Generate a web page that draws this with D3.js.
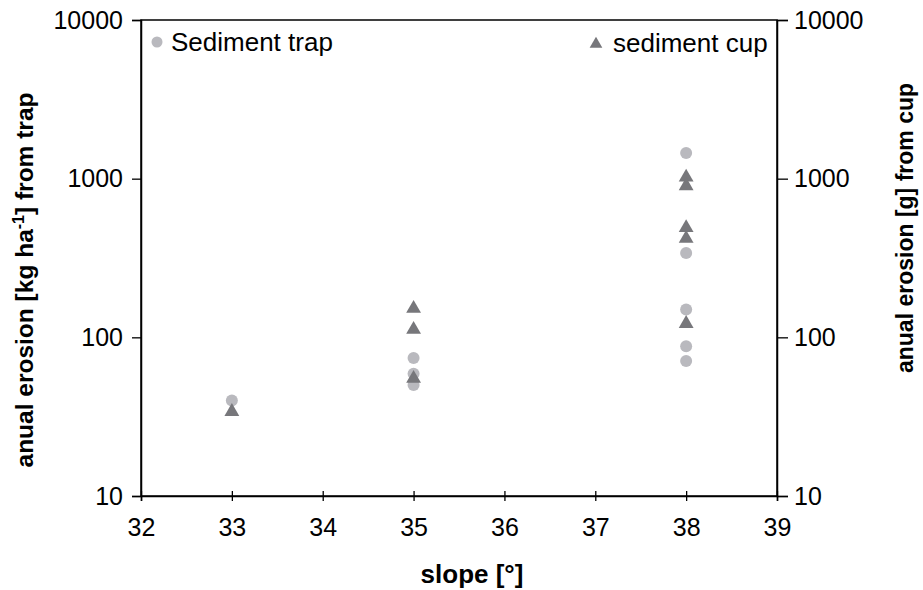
<!DOCTYPE html>
<html>
<head>
<meta charset="utf-8">
<script src="https://cdn.jsdelivr.net/npm/d3@7"></script>
<style>
  html, body { margin: 0; padding: 0; background: #fff; }
  svg text { font-family: Arial, "Liberation Sans", sans-serif; fill: #000; }
</style>
</head>
<body>
<svg id="chart" width="923" height="590"></svg>
<script>
// Slope categories and erosion measurements
const trapSlopes  = [33, 35, 35, 35, 38, 38, 38, 38, 38];
const trapValues  = [40, 74, 59, 50, 1450, 340, 150, 88, 71];      // kg ha-1
const cupSlopes   = [33, 35, 35, 35, 38, 38, 38, 38, 38];
const cupValues   = [34, 152, 112, 55, 1020, 900, 490, 420, 122];  // g
const xTicks      = [32, 33, 34, 35, 36, 37, 38, 39];
const yTicks      = [10, 100, 1000, 10000];

const svg = d3.select("#chart");
const m = { left: 141, right: 777, top: 20, bottom: 496 };

const x = d3.scaleLinear().domain([32, 39]).range([m.left, m.right]);
const yL = d3.scaleLog().domain([10, 10000]).range([m.bottom, m.top]);
const yR = d3.scaleLog().domain([10, 10000]).range([m.bottom, m.top]);

// frame (top and right edges)
svg.append("rect")
  .attr("x", m.left).attr("y", m.top)
  .attr("width", m.right - m.left).attr("height", m.bottom - m.top)
  .attr("fill", "none").attr("stroke", "#000").attr("stroke-width", 1.5);

const fmt = d3.format("d");

// left axis
const gL = svg.append("g").attr("transform", `translate(${m.left},0)`)
  .call(d3.axisLeft(yL).tickValues(yTicks).tickFormat(fmt).tickSize(9).tickPadding(9));
// right axis
const gR = svg.append("g").attr("transform", `translate(${m.right},0)`)
  .call(d3.axisRight(yR).tickValues(yTicks).tickFormat(fmt).tickSize(11).tickPadding(6));
// bottom axis (ticks cross the line)
const gB = svg.append("g").attr("transform", `translate(0,${m.bottom})`)
  .call(d3.axisBottom(x).tickValues(xTicks).tickFormat(fmt).tickSize(5).tickPadding(17));
gB.selectAll(".tick line").attr("y1", -5);

[gL, gR, gB].forEach(g => {
  g.select(".domain").attr("stroke", "#000").attr("stroke-width", 1.5);
  g.selectAll(".tick line").attr("stroke", "#000").attr("stroke-width", 1.3);
  g.selectAll(".tick text").style("font-size", "25px").attr("fill", "#000")
    .style("font-family", "Arial, 'Liberation Sans', sans-serif");
});

// trap measurements
svg.append("g").selectAll("circle")
  .data(trapValues.map((v, i) => [trapSlopes[i], v]))
  .join("circle")
  .attr("cx", d => x(d[0])).attr("cy", d => yL(d[1]))
  .attr("r", 6).attr("fill", "#b9b9be");

// cup measurements
const tri = d3.symbol().type(d3.symbolTriangle).size(95);
svg.append("g").selectAll("path")
  .data(cupValues.map((v, i) => [cupSlopes[i], v]))
  .join("path")
  .attr("d", tri)
  .attr("transform", d => `translate(${x(d[0])},${yR(d[1])})`)
  .attr("fill", "#77777b");

// legend
svg.append("circle").attr("cx", 157).attr("cy", 42).attr("r", 5.5).attr("fill", "#b9b9be");
svg.append("text").attr("x", 171).attr("y", 51).style("font-size", "26px").text("Sediment trap");
svg.append("path").attr("d", d3.symbol().type(d3.symbolTriangle).size(70))
  .attr("transform", "translate(596,44)").attr("fill", "#77777b");
svg.append("text").attr("x", 613).attr("y", 52).style("font-size", "26px").text("sediment cup");

// axis titles
svg.append("text")
  .attr("text-anchor", "middle").attr("x", 472).attr("y", 583)
  .style("font-size", "26px").style("font-weight", "bold").text("slope [°]");

const lt = svg.append("text")
  .attr("transform", "translate(33,280) rotate(-90)")
  .attr("text-anchor", "middle")
  .style("font-size", "24.5px").style("font-weight", "bold");
lt.append("tspan").text("anual erosion [kg ha");
lt.append("tspan").attr("dy", -9).style("font-size", "16px").text("-1");
lt.append("tspan").attr("dy", 9).text("] from trap");

svg.append("text")
  .attr("transform", "translate(913,228) rotate(-90)")
  .attr("text-anchor", "middle")
  .style("font-size", "23px").style("font-weight", "bold")
  .text("anual erosion [g] from cup");
</script>
</body>
</html>
